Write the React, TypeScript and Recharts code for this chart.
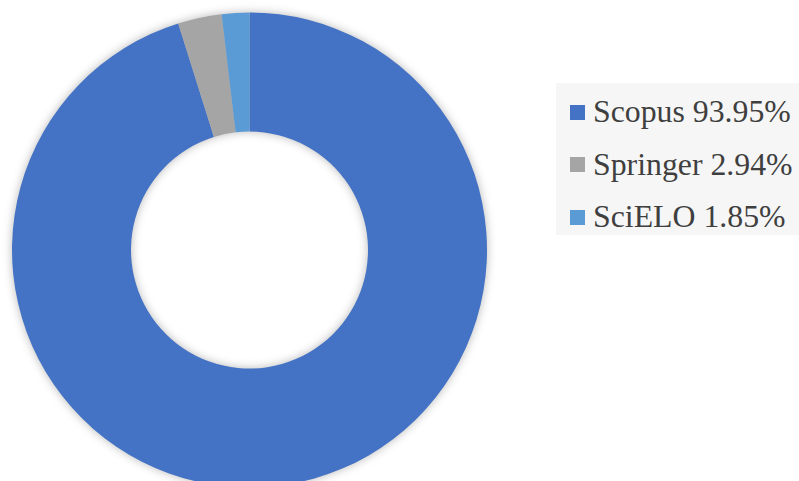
import React from 'react';
import { PieChart, Pie, Cell, Legend } from 'recharts';

const categories = ['Scopus', 'Springer', 'SciELO'];
const values = [93.95, 2.94, 1.85];
const labels = ['93.95%', '2.94%', '1.85%'];
const colors = ['#4472C4', '#A5A5A5', '#5B9BD5'];

const data = categories.map((name, i) => ({ name, value: values[i], label: labels[i] }));

const LegendContent = () => (
  <div
    style={{
      background: '#f6f6f6',
      width: 243,
      height: 152,
      boxSizing: 'border-box',
      paddingTop: 3,
      paddingLeft: 14,
      fontFamily: '"Liberation Serif", "Times New Roman", serif',
      fontSize: 31.8,
      color: '#3f3f3f',
    }}
  >
    {data.map((d, i) => (
      <div key={d.name} style={{ display: 'flex', alignItems: 'center', height: 52.5, whiteSpace: 'nowrap' }}>
        <span style={{ display: 'inline-block', width: 15, height: 15, background: colors[i], marginRight: 8 }} />
        <span>{`${d.name} ${d.label}`}</span>
      </div>
    ))}
  </div>
);

export default function App() {
  return (
    <div style={{ position: 'absolute', left: 0, top: 0, width: 799, height: 481, background: '#fff', overflow: 'hidden' }}>
      <style>{`.recharts-pie { filter: drop-shadow(0px 0px 5px rgba(0,0,0,0.28)); }`}</style>
      <PieChart width={799} height={481} margin={{ top: 0, right: 0, bottom: 0, left: 0 }}>
        <Pie
          data={data}
          dataKey="value"
          nameKey="name"
          cx={249.5}
          cy={250}
          outerRadius={237.5}
          innerRadius={118.5}
          startAngle={90}
          endAngle={-270}
          stroke="none"
          isAnimationActive={false}
        >
          {data.map((d, i) => (
            <Cell key={d.name} fill={colors[i]} />
          ))}
        </Pie>
        <Legend
          content={<LegendContent />}
          wrapperStyle={{ position: 'absolute', left: 556, top: 83, width: 243, height: 152 }}
        />
      </PieChart>
    </div>
  );
}
